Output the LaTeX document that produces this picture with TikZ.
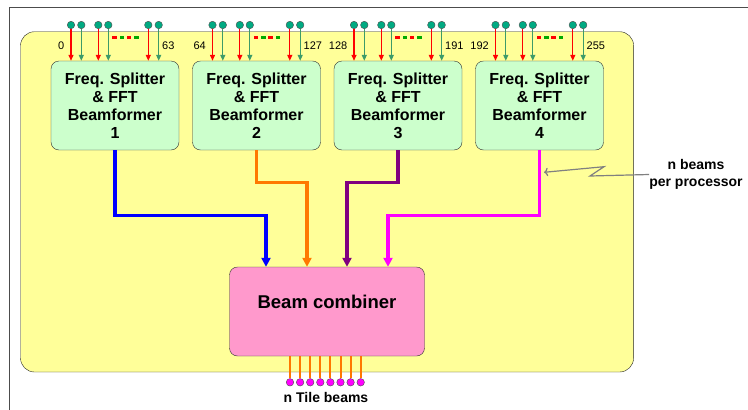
\documentclass[tikz,border=0pt]{standalone}
\usepackage{fontspec}
\setmainfont{Liberation Sans}
\usetikzlibrary{arrows.meta}
\definecolor{boardyellow}{RGB}{255,255,153}
\definecolor{fftgreen}{RGB}{204,255,204}
\definecolor{combpink}{RGB}{255,153,204}
\definecolor{dotteal}{RGB}{0,170,130}
\definecolor{arrgreen}{RGB}{60,155,105}
\definecolor{dashgreen}{RGB}{0,170,0}
\definecolor{beamorange}{RGB}{255,120,0}
\definecolor{beampurple}{RGB}{128,0,128}
\definecolor{beammagenta}{RGB}{255,0,255}

\begin{document}
\begin{tikzpicture}[
  x=1pt, y=-1pt,
  fftbox/.style={draw=black!80,fill=fftgreen,rounded corners=8pt,minimum width=128pt,minimum height=89pt,inner sep=0pt,align=center,font=\fontsize{16}{18}\selectfont\bfseries},
  combbox/.style={draw=black!80,fill=combpink,rounded corners=8pt,minimum width=195pt,minimum height=89pt,inner sep=0pt},
  indot/.style={circle,draw=black!70,fill=dotteal,minimum size=7.5pt,inner sep=0pt},
  outdot/.style={circle,draw=black!70,fill=beammagenta,minimum size=7.5pt,inner sep=0pt},
  inarrow/.style={line width=1.3pt,-{Triangle[length=6pt,width=5pt]}},
  beam/.style={line width=3.3pt,-{Triangle[length=9pt,width=9pt]}},
  numlab/.style={font=\fontsize{11}{13}\selectfont,inner sep=0pt},
  boldlab/.style={font=\fontsize{14}{16.7}\selectfont\bfseries,align=center,inner sep=0pt}
]
  \useasboundingbox (0,0) rectangle (748,410);
  \draw[black!70,line width=0.8pt] (9.3,410) -- (9.3,7.3) -- (748,7.3);
  \draw[black!85,fill=boardyellow,rounded corners=14pt] (20.5,31.7) rectangle (633.6,372);

  \node[fftbox] (fb1) at (115,105.5) {Freq. Splitter\\\& FFT\\Beamformer\\1};
  \node[fftbox] (fb2) at (256.5,105.5) {Freq. Splitter\\\& FFT\\Beamformer\\2};
  \node[fftbox] (fb3) at (398,105.5) {Freq. Splitter\\\& FFT\\Beamformer\\3};
  \node[fftbox] (fb4) at (539.5,105.5) {Freq. Splitter\\\& FFT\\Beamformer\\4};
  \node[combbox] (comb) at (327,311.5) {};
  \node[font=\fontsize{18.5}{20}\selectfont\bfseries] (combtxt) at ([yshift=9.5pt]comb.center) {Beam combiner};

  % input pins of each beamformer
  \foreach \i/\lo/\hi in {1/0/63,2/64/127,3/128/191,4/192/255}{
    \pgfmathsetmacro{\xo}{51+141.5*(\i-1)}
    \foreach \dx/\col [count=\k] in {20/red,30.3/arrgreen,47.3/red,57.3/arrgreen,97.3/red,107.7/arrgreen}{
      \node[indot] (p\i\k) at (\xo+\dx,25) {};
      \draw[inarrow,\col] (p\i\k) -- (p\i\k |- fb\i.north);
    }
    \foreach \dx/\col in {63.5/red,70.8/dashgreen,78/red,85.5/dashgreen}
      \fill[\col] (\xo+\dx-2.3,35.5) rectangle ++(4.6,3.6);
    \node[numlab,anchor=east] (lo\i) at (\xo+13.5,46) {\lo};
    \node[numlab,anchor=west] (hi\i) at (\xo+111,46) {\hi};
  }

  % beams into the combiner
  \draw[beam,blue] (fb1.south) -- ++(0,65) -| ([xshift=-61pt]comb.north);
  \draw[beam,beamorange] (fb2.south) -- ++(0,32) -| ([xshift=-20pt]comb.north);
  \draw[beam,beampurple] (fb3.south) -- ++(0,32) -| ([xshift=20pt]comb.north);
  \draw[beam,beammagenta] (fb4.south) -- ++(0,65) -| ([xshift=61pt]comb.north);

  \node[boldlab] (nbeams) at (696,174.5) {n beams\\per processor};
  \coordinate (mgline) at (544,172.3);
  \draw[gray,line width=1.2pt,-{To[length=4pt]}] (nbeams.west) -- (590,176) -- (604,166.7) -- (mgline);

  % tile beam outputs
  \foreach \k in {0,...,7}{
    \node[outdot] (o\k) at (290+10.1*\k,382.3) {};
    \draw[beamorange,line width=2pt] (o\k |- comb.south) -- (o\k);
  }
  \node[boldlab] (tilelab) at (326,397.3) {n Tile beams};
\end{tikzpicture}
\end{document}
